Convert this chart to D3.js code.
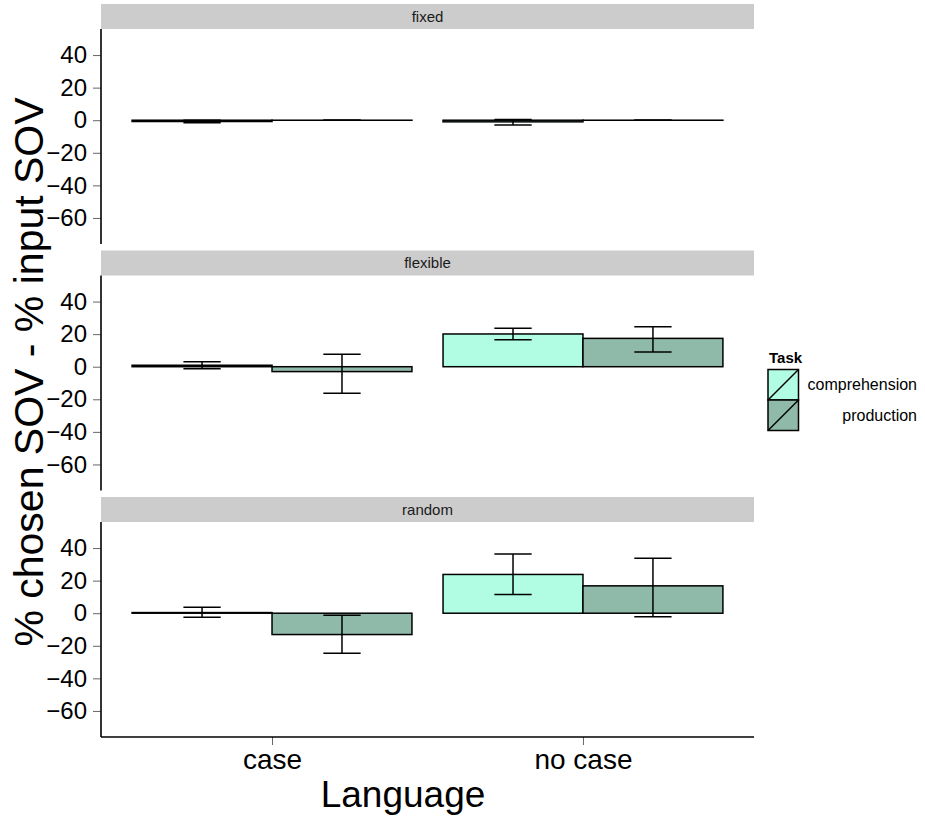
<!DOCTYPE html>
<html>
<head>
<meta charset="utf-8">
<script src="https://cdnjs.cloudflare.com/ajax/libs/d3/7.8.5/d3.min.js"></script>
<style>
body { margin: 0; background: #fff; }
text { font-family: "Liberation Sans", Arial, sans-serif; }
</style>
</head>
<body>
<svg id="chart" width="925" height="819"></svg>
<script>
// ---------- data ----------
var conditions = ["fixed", "flexible", "random"];
var languages = ["case", "no case"];
var tasks = ["comprehension", "production"];
var yTicks = [-60, -40, -20, 0, 20, 40];

// rows: condition, language, task, mean, lower, upper
var means = [
	["fixed", "case", "comprehension", -0.8, -1.6, 0],
	["fixed", "case", "production", 0, 0, 0],
	["fixed", "no case", "comprehension", -1, -3, 0.5],
	["fixed", "no case", "production", 0, 0, 0],
	["flexible", "case", "comprehension", 0.9, -1.2, 3.1],
	["flexible", "case", "production", -3, -16.3, 7.6],
	["flexible", "no case", "comprehension", 20.1, 16.6, 23.6],
	["flexible", "no case", "production", 17.4, 9, 24.6],
	["random", "case", "comprehension", 0.4, -2.5, 3.7],
	["random", "case", "production", -13.1, -24.6, -1.2],
	["random", "no case", "comprehension", 23.8, 11.5, 36.3],
	["random", "no case", "production", 16.8, -2.2, 33.7]
];

var colors = {comprehension: "#b0fde3", production: "#8fb9a8"};

// ---------- layout ----------
var svg = d3.select("#chart");
var left = 101, right = 754;
var stripH = 25, panelH = 215, gap = 6.5, top0 = 4;

var xScale = d3.scalePoint()
	.domain(languages)
	.range([left, right])
	.padding(0.55);
var step = xScale.step();
var dodge = d3.scaleBand()
	.domain(tasks)
	.range([-0.45 * step, 0.45 * step]);
var capW = 0.12 * step;

conditions.forEach(function(cond, i)
{
	var stripTop = top0 + i * (stripH + panelH + gap);
	var pTop = stripTop + stripH;
	var yScale = d3.scaleLinear()
		.domain([-76, 56])
		.range([pTop + panelH, pTop]);

	// strip
	svg.append("rect")
		.attr("x", left).attr("y", stripTop)
		.attr("width", right - left).attr("height", stripH)
		.attr("fill", "#cccccc");
	svg.append("text")
		.attr("x", (left + right) / 2)
		.attr("y", stripTop + stripH / 2 + 5)
		.attr("text-anchor", "middle")
		.attr("font-size", 15)
		.attr("fill", "#1a1a1a")
		.text(cond);

	// y axis
	var yAxis = d3.axisLeft(yScale)
		.tickValues(yTicks)
		.tickSize(8)
		.tickPadding(6);
	var ag = svg.append("g")
		.attr("transform", "translate(" + left + ",0)")
		.call(yAxis);
	ag.select(".domain").remove();
	ag.selectAll(".tick line").attr("stroke", "#666").attr("stroke-width", 1);
	ag.selectAll(".tick text")
		.attr("font-size", 24)
		.attr("fill", "#000")
		.style("font-family", "Liberation Sans, Arial, sans-serif");
	svg.append("line")
		.attr("x1", left).attr("x2", left)
		.attr("y1", pTop).attr("y2", pTop + panelH)
		.attr("stroke", "#000").attr("stroke-width", 1.6);

	var rows = means.filter(function(r) { return r[0] == cond; });

	// bars (a zero bar still shows as a flat outline)
	svg.append("g").selectAll("rect")
		.data(rows)
		.enter()
		.append("rect")
		.attr("x", function(r) { return xScale(r[1]) + dodge(r[2]); })
		.attr("width", dodge.bandwidth())
		.attr("y", function(r) { return yScale(Math.max(0, r[3])); })
		.attr("height", function(r) { return Math.max(0.05, Math.abs(yScale(r[3]) - yScale(0))); })
		.attr("fill", function(r) { return colors[r[2]]; })
		.attr("stroke", "#000")
		.attr("stroke-width", 1.5);

	// error bars
	var eg = svg.append("g").selectAll("g")
		.data(rows)
		.enter()
		.append("g")
		.attr("stroke", "#000")
		.attr("stroke-width", 1.5);
	var cx = function(r) { return xScale(r[1]) + dodge(r[2]) + dodge.bandwidth() / 2; };
	eg.append("line")
		.attr("x1", cx).attr("x2", cx)
		.attr("y1", function(r) { return yScale(r[4]); })
		.attr("y2", function(r) { return yScale(r[5]); });
	eg.append("line")
		.attr("x1", function(r) { return cx(r) - capW / 2; })
		.attr("x2", function(r) { return cx(r) + capW / 2; })
		.attr("y1", function(r) { return yScale(r[4]); })
		.attr("y2", function(r) { return yScale(r[4]); });
	eg.append("line")
		.attr("x1", function(r) { return cx(r) - capW / 2; })
		.attr("x2", function(r) { return cx(r) + capW / 2; })
		.attr("y1", function(r) { return yScale(r[5]); })
		.attr("y2", function(r) { return yScale(r[5]); });

	// x axis on last panel only
	if (i == conditions.length - 1)
	{
		var xAxis = d3.axisBottom(xScale).tickSize(8).tickPadding(4);
		var xg = svg.append("g")
			.attr("transform", "translate(0," + (pTop + panelH) + ")")
			.call(xAxis);
		xg.select(".domain").remove();
		xg.selectAll(".tick line").attr("stroke", "#666").attr("stroke-width", 1);
		xg.selectAll(".tick text")
			.attr("font-size", 28)
			.attr("fill", "#000")
			.style("font-family", "Liberation Sans, Arial, sans-serif");
		svg.append("line")
			.attr("x1", left).attr("x2", right)
			.attr("y1", pTop + panelH).attr("y2", pTop + panelH)
			.attr("stroke", "#000").attr("stroke-width", 1.6);
	}
});

// ---------- titles ----------
svg.append("text")
	.attr("x", 403).attr("y", 807)
	.attr("text-anchor", "middle")
	.attr("font-size", 37)
	.text("Language");

svg.append("text")
	.attr("transform", "translate(43,372) rotate(-90)")
	.attr("text-anchor", "middle")
	.attr("font-size", 41)
	.text("% chosen SOV - % input SOV");

// ---------- legend ----------
var legend = svg.append("g");
legend.append("text")
	.attr("x", 769).attr("y", 362.5)
	.attr("font-size", 15)
	.attr("font-weight", "bold")
	.text("Task");
tasks.forEach(function(t, k)
{
	var ky = 369.5 + k * 30.5;
	legend.append("rect")
		.attr("x", 768).attr("y", ky)
		.attr("width", 30.5).attr("height", 30.5)
		.attr("fill", colors[t])
		.attr("stroke", "#000").attr("stroke-width", 1.5);
	legend.append("line")
		.attr("x1", 768).attr("y1", ky + 30.5)
		.attr("x2", 798.5).attr("y2", ky)
		.attr("stroke", "#000").attr("stroke-width", 1.5);
	legend.append("text")
		.attr("x", 917).attr("y", ky + 15.25 + 5.5)
		.attr("text-anchor", "end")
		.attr("font-size", 16)
		.text(t);
});
</script>
</body>
</html>
